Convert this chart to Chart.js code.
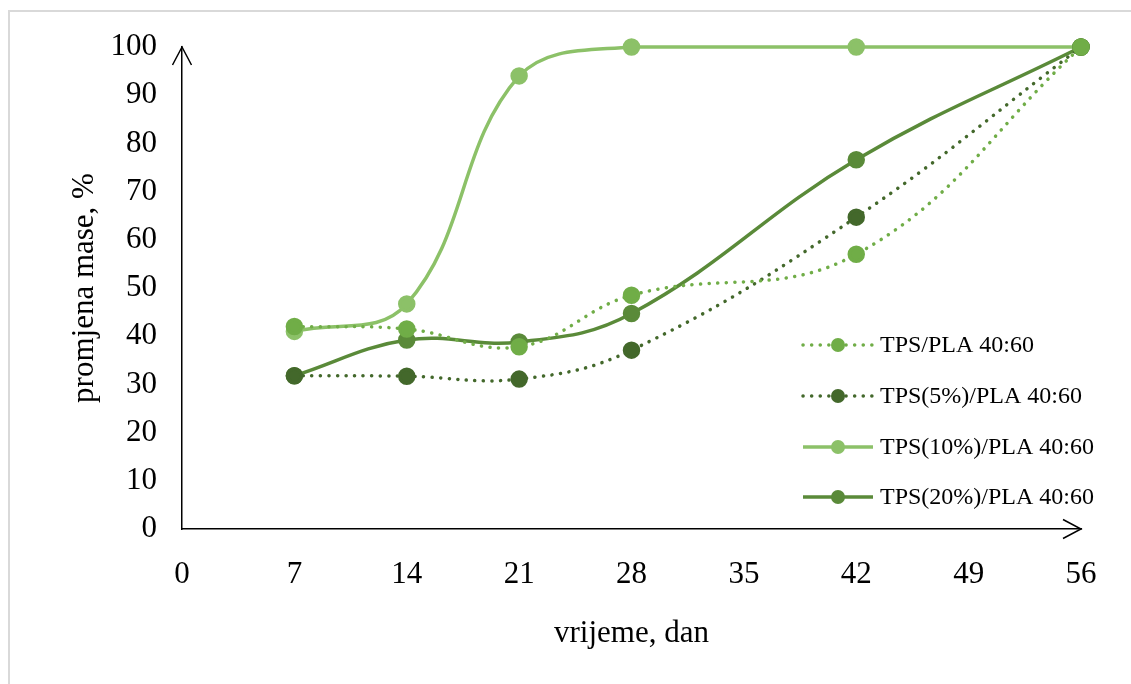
<!DOCTYPE html>
<html>
<head>
<meta charset="utf-8">
<script src="https://cdn.jsdelivr.net/npm/chart.js@4.4.1/dist/chart.umd.min.js"></script>
<style>
  html, body { margin: 0; padding: 0; background: #fff; }
  #wrap { position: relative; width: 1131px; height: 684px; overflow: hidden; }
  #frame { position: absolute; left: 8px; top: 10px; width: 1200px; height: 800px; border-left: 2px solid #d9d9d9; border-top: 2px solid #d9d9d9; box-sizing: border-box; }
  canvas { position: absolute; left: 0; top: 0; }
</style>
</head>
<body>
<div id="wrap">
  <div id="frame"></div>
  <canvas id="myChart" width="1131" height="684"></canvas>
</div>
<script>
// days
var days = [7, 14, 21, 28, 42, 56];
// mass change, %
var tpsPla   = [42, 41.5, 37.8, 48.5, 57, 100];
var tps5     = [31.8, 31.7, 31.1, 37.1, 64.7, 100];
var tps10    = [41, 46.7, 94, 100, 100, 100];
var tps20    = [31.8, 39.2, 38.8, 44.7, 76.6, 100];
var seriesNames = ["TPS/PLA 40:60", "TPS(5%)/PLA 40:60", "TPS(10%)/PLA 40:60", "TPS(20%)/PLA 40:60"];
var xTicks = [0, 7, 14, 21, 28, 35, 42, 49, 56];
var yTicks = [0, 10, 20, 30, 40, 50, 60, 70, 80, 90, 100];

var colors = ["#70AD47", "#43682B", "#8CC168", "#5A8A39"];
var dotted = [true, true, false, false];
var allData = [tpsPla, tps5, tps10, tps20];

var FONT = "'Liberation Serif', 'Times New Roman', serif";

function toPoints(vals) {
  return days.map(function (d, i) { return { x: d, y: vals[i] }; });
}

var datasets = allData.map(function (vals, i) {
  return {
    label: seriesNames[i],
    data: toPoints(vals),
    borderColor: colors[i],
    backgroundColor: colors[i],
    pointBackgroundColor: colors[i],
    pointBorderColor: colors[i],
    pointRadius: 7,
    pointHoverRadius: 7,
    borderWidth: 3.5,
    borderDash: dotted[i] ? [0.1, 8.5] : [],
    borderCapStyle: dotted[i] ? 'round' : 'butt',
    tension: 0.4,
    clip: false,
    fill: false
  };
});

// arrows at axis ends + legend inside the plot
var extras = {
  id: 'extras',
  afterDraw: function (chart) {
    var ctx = chart.ctx;
    var a = chart.chartArea;
    ctx.save();
    ctx.strokeStyle = '#000';
    ctx.lineWidth = 1.5;
    ctx.beginPath();
    ctx.moveTo(a.left - 9.5, a.top + 18);
    ctx.lineTo(a.left, a.top);
    ctx.lineTo(a.left + 9.5, a.top + 18);
    ctx.moveTo(a.right - 18, a.bottom - 9.5);
    ctx.lineTo(a.right, a.bottom);
    ctx.lineTo(a.right - 18, a.bottom + 9.5);
    ctx.stroke();

    // legend
    var lx = 803, lw = 70, rowY = [345, 396, 447, 497];
    ctx.font = '24px ' + FONT;
    ctx.textBaseline = 'middle';
    ctx.textAlign = 'left';
    seriesNames.forEach(function (name, i) {
      var y = rowY[i];
      ctx.strokeStyle = colors[i];
      ctx.lineWidth = 3.5;
      if (dotted[i]) {
        ctx.setLineDash([0.1, 8.5]);
        ctx.lineCap = 'round';
      } else {
        ctx.setLineDash([]);
        ctx.lineCap = 'butt';
      }
      ctx.beginPath();
      ctx.moveTo(lx, y);
      ctx.lineTo(lx + lw, y);
      ctx.stroke();
      ctx.setLineDash([]);
      ctx.fillStyle = colors[i];
      ctx.beginPath();
      ctx.arc(lx + lw / 2, y, 7, 0, Math.PI * 2);
      ctx.fill();
      ctx.fillStyle = '#000';
      ctx.fillText(name, 880, y + 1);
    });
    ctx.restore();
  }
};

new Chart(document.getElementById("myChart").getContext('2d'), {
  type: 'line',
  data: { datasets: datasets },
  plugins: [extras],
  options: {
    responsive: false,
    animation: false,
    layout: { padding: { left: 0, top: 47, right: 50, bottom: 0 } },
    plugins: {
      legend: { display: false },
      tooltip: { enabled: false },
      title: { display: false }
    },
    scales: {
      x: {
        type: 'linear',
        min: 0,
        max: 56,
        afterFit: function (s) { s.height = 155; },
        afterBuildTicks: function (s) { s.ticks = xTicks.map(function (v) { return { value: v }; }); },
        grid: { display: false, drawTicks: false },
        border: { display: true, color: '#000', width: 1.5 },
        ticks: { color: '#000', font: { family: FONT, size: 31 }, padding: 27, maxRotation: 0, autoSkip: false },
        title: { display: true, text: 'vrijeme, dan', color: '#000', font: { family: FONT, size: 31 }, padding: { top: 0, bottom: 32 } }
      },
      y: {
        min: 0,
        max: 100,
        afterFit: function (s) { s.width = 182; },
        afterBuildTicks: function (s) { s.ticks = yTicks.map(function (v) { return { value: v }; }); },
        grid: { display: false, drawTicks: false },
        border: { display: true, color: '#000', width: 1.5 },
        ticks: { color: '#000', font: { family: FONT, size: 31 }, padding: 25, autoSkip: false },
        title: { display: true, text: 'promjena mase, %', color: '#000', font: { family: FONT, size: 31 }, padding: { top: 66, bottom: 0 } }
      }
    }
  }
});
</script>
</body>
</html>
